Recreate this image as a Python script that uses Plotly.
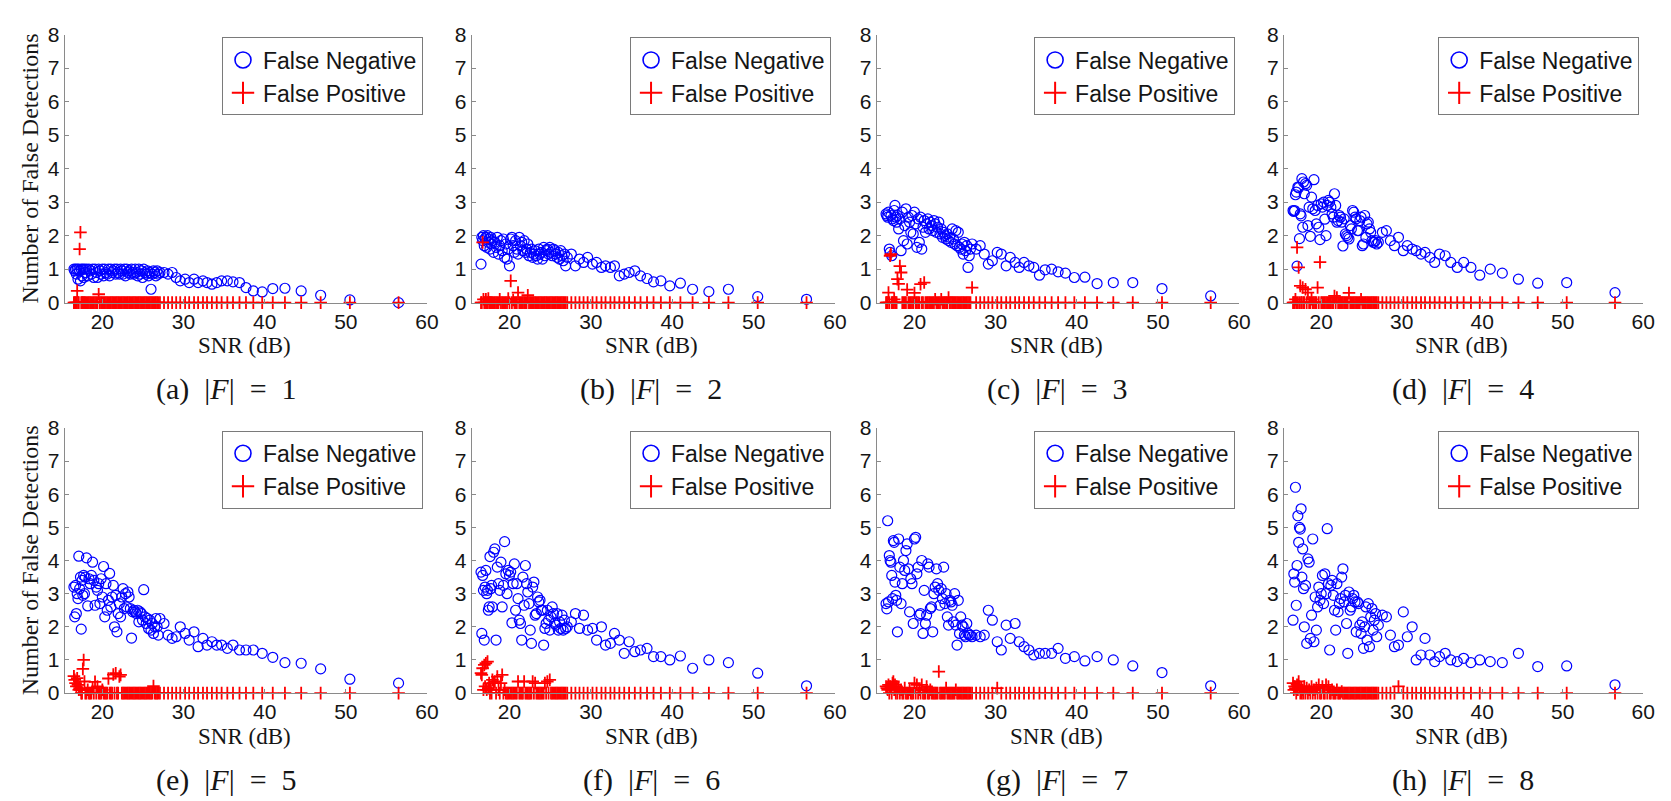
import plotly.graph_objects as go

# ---------------- data ----------------
SNR = [
    16.5, 16.6, 16.7, 16.8, 16.9, 17.0, 17.1, 17.2, 17.3, 17.4, 17.5, 17.6, 17.7, 17.8, 17.9,
    18.05, 18.2, 18.35, 18.5, 18.65, 18.8, 18.95, 19.1, 19.25, 19.4, 19.55, 19.7, 19.85, 20.0, 20.15, 20.3, 20.45, 20.6, 20.75, 20.9,
    21.05, 21.2, 21.35, 21.5, 21.65, 21.8, 21.95, 22.1, 22.25, 22.4, 22.55, 22.7, 22.85, 23.0, 23.15, 23.3, 23.45, 23.6, 23.75, 23.9,
    24.05, 24.2, 24.35, 24.5, 24.65, 24.8, 24.95, 25.1, 25.25, 25.4, 25.55, 25.7, 25.85, 26.0, 26.15, 26.3, 26.45, 26.6, 26.75, 26.9, 27.1,
    27.6, 28.1, 28.6, 29.1, 29.6, 30.2, 30.7, 31.3, 31.8, 32.4, 32.9, 33.5, 34.1, 34.7, 35.4, 36.1, 36.9, 37.7, 38.6, 39.7, 41.0, 42.5, 44.5, 46.9, 50.5, 56.5,
]

FN_A = [
    1.0, 0.95, 1.0, 0.85, 1.0,  0.7, 1.0, 0.95, 0.65, 1.0,  0.8, 1.0, 0.75, 1.0, 0.9,
    1.0, 0.8, 1.0, 0.95, 0.85,  1.0, 0.75, 1.0, 0.9, 0.75,  1.0, 0.95, 0.85, 1.0, 0.8,  1.0, 0.9, 0.85, 1.0, 0.8,
    1.0, 0.9, 0.95, 1.0, 0.85,  1.0, 0.9, 0.85, 1.0, 0.95,  0.85, 1.0, 0.8, 1.0, 0.9,  0.95, 0.85, 1.0, 0.9, 0.85,
    1.0, 0.9, 0.8, 1.0, 0.85,  0.95, 0.75, 1.0, 0.9, 0.85,  0.95, 0.8, 0.9, 0.4, 0.85,  0.95, 0.9, 0.8, 0.95, 0.85,  0.9,
    0.9, 0.85, 0.9, 0.75, 0.65,  0.7, 0.6, 0.7, 0.6, 0.65,  0.6, 0.55, 0.6, 0.65, 0.65,  0.62, 0.6, 0.45, 0.35, 0.32,  0.42, 0.43, 0.35, 0.22, 0.08,  0.0,
]
FP_A = [
    0, 0, 0, 0, 0.35,  0, 0, 1.6, 2.1, 0,  0, 0, 0, 0, 0,
    0, 0, 0, 0, 0,  0, 0, 0, 0, 0,  0.25, 0, 0, 0, 0,  0, 0, 0, 0, 0,
    0, 0, 0, 0, 0,  0, 0, 0, 0, 0,  0, 0, 0, 0, 0,  0, 0, 0, 0, 0,
    0, 0, 0, 0, 0,  0, 0, 0, 0, 0,  0, 0, 0, 0, 0,  0, 0, 0, 0, 0,  0,
    0, 0, 0, 0, 0,  0, 0, 0, 0, 0,  0, 0, 0, 0, 0,  0, 0, 0, 0, 0,  0, 0, 0, 0, 0,  0,
]

FN_B = [
    1.15, 1.95, 1.85, 2.0, 1.7,  1.9, 1.95, 1.65, 2.0, 1.8,  1.9, 1.6, 1.95, 1.75, 1.85,
    1.5, 1.8, 1.65, 1.95, 1.45,  1.7, 1.85, 1.55, 1.9, 1.35,  1.75, 1.3, 1.6, 1.1, 1.9,  1.95, 1.7, 1.5, 1.85, 1.6,
    1.45, 1.95, 1.7, 1.8, 1.55,  1.85, 1.5, 1.6, 1.75, 1.4,  1.5, 1.6, 1.35, 1.45, 1.55,  1.4, 1.3, 1.6, 1.45, 1.5,
    1.3, 1.65, 1.4, 1.55, 1.6,  1.45, 1.65, 1.5, 1.4, 1.6,  1.55, 1.45, 1.35, 1.5, 1.3,  1.55, 1.4, 1.25, 1.45, 1.1,  1.35,
    1.45, 1.1, 1.3, 1.2, 1.35,  1.15, 1.2, 1.05, 1.1, 1.05,  1.1, 0.8, 0.85, 0.9, 0.95,  0.8, 0.72, 0.62, 0.65, 0.5,  0.58, 0.4, 0.33, 0.4, 0.18,  0.1,
]
FP_B = [
    0, 0, 1.8, 0.1, 0,  0, 0.1, 0, 0, 0.12,  0, 0, 0, 0, 0,
    0, 0, 0, 0, 0,  0.1, 0, 0, 0, 0,  0, 0, 0.12, 0, 0.65,  0, 0.08, 0, 0, 0,
    0.3, 0, 0, 0, 0,  0, 0, 0, 0.22, 0,  0, 0, 0, 0, 0,  0, 0, 0, 0, 0,
    0, 0, 0, 0, 0,  0, 0, 0, 0, 0,  0, 0, 0, 0, 0,  0, 0, 0, 0, 0,  0,
    0, 0, 0, 0, 0,  0, 0, 0, 0, 0,  0, 0, 0, 0, 0,  0, 0, 0, 0, 0,  0, 0, 0, 0, 0,  0,
]

FN_C = [
    2.65, 2.6, 2.55, 2.7, 1.6,  1.5, 2.6, 1.4, 2.5, 2.45,  2.75, 2.9, 2.55, 2.4, 2.6,
    2.2, 2.5, 1.55, 2.7, 1.85,  2.3, 2.8, 1.75, 2.55, 2.4,  2.1, 2.6, 2.05, 2.7, 2.35,  1.65, 2.5, 1.8, 2.55, 1.6,
    2.25, 2.45, 2.1, 2.35, 2.5,  2.2, 2.4, 2.3, 2.15, 2.45,  2.35, 2.1, 2.25, 2.4, 2.05,  2.2, 1.95, 2.1, 2.0, 1.9,
    2.05, 1.85, 1.95, 1.8, 2.2,  1.9, 1.75, 2.15, 1.7, 2.1,  1.65, 1.6, 1.75, 1.45, 1.8,  1.55, 1.7, 1.05, 1.4, 1.6,  1.75,
    1.6, 1.7, 1.45, 1.15, 1.25,  1.5, 1.45, 1.1, 1.35, 1.2,  1.05, 1.2, 1.1, 1.05, 0.82,  0.98, 1.0, 0.92, 0.88, 0.75,  0.76, 0.57, 0.6, 0.6, 0.42,  0.2,
]
FP_C = [
    0, 0, 0, 0.3, 0,  1.4, 1.45, 0, 0, 0,  0.1, 0, 0, 0, 0.7,
    0.56, 1.09, 0.9, 0, 0,  0, 0, 0.39, 0, 0,  0, 0, 0, 0.29, 0,  0, 0, 0, 0.55, 0,
    0, 0.6, 0, 0, 0,  0, 0, 0, 0, 0,  0.1, 0, 0, 0, 0,  0.1, 0, 0, 0, 0,
    0, 0.15, 0, 0, 0,  0, 0, 0, 0, 0,  0, 0, 0, 0, 0,  0, 0, 0, 0, 0,  0.45,
    0, 0, 0, 0, 0,  0, 0, 0, 0, 0,  0, 0, 0, 0, 0,  0, 0, 0, 0, 0,  0, 0, 0, 0, 0,  0,
]

FN_D = [
    2.75, 2.72, 2.75, 3.22, 3.3,  1.09, 3.45, 3.43, 1.91, 2.65,  2.59, 3.7, 2.25, 3.6, 3.25,
    3.55, 3.5, 2.3, 2.85, 1.98,  3.15, 2.8, 3.67, 2.75, 2.35,  2.9, 2.25, 1.88, 2.95, 2.85,  3.0, 2.49, 2.0, 2.9, 3.05,
    3.0, 2.85, 2.65, 2.55, 3.25,  2.9, 2.4, 2.45, 2.6, 2.55,  2.4, 1.69, 2.5, 2.05, 2.0,  1.95, 1.9, 2.3, 2.2, 2.75,
    2.7, 2.55, 2.5, 2.15, 2.15,  2.45, 2.55, 1.7, 1.75, 2.6,  1.95, 2.35, 2.4, 2.2, 2.1,  1.85, 1.8, 1.8, 1.85, 1.75,  1.8,
    2.1, 2.15, 1.85, 1.7, 1.95,  1.55, 1.7, 1.6, 1.55, 1.45,  1.5, 1.35, 1.2, 1.45, 1.4,  1.2, 1.05, 1.2, 1.05, 0.82,  1.0, 0.88, 0.7, 0.58, 0.6,  0.3,
]
FP_D = [
    0, 0, 0, 0.1, 0,  1.65, 0, 1.05, 0, 0.5,  0, 0, 0.45, 0, 0,
    0.4, 0, 0.3, 0, 0,  0.1, 0, 0, 0, 0,  0.45, 0, 1.21, 0, 0,  0, 0, 0, 0, 0,
    0, 0, 0, 0, 0.2,  0, 0.15, 0, 0, 0,  0, 0, 0, 0, 0,  0, 0.29, 0, 0, 0,
    0, 0, 0, 0, 0,  0, 0.1, 0, 0, 0,  0, 0, 0, 0, 0,  0, 0, 0, 0, 0,  0,
    0, 0, 0, 0, 0,  0, 0, 0, 0, 0,  0, 0, 0, 0, 0,  0, 0, 0, 0, 0,  0, 0, 0, 0, 0,  0,
]

FN_E = [
    3.2, 2.3, 3.25, 2.4, 3.0,  2.85, 4.13, 3.15, 3.5, 1.93,  3.4, 2.95, 3.55, 3.0, 3.5,
    4.08, 2.63, 3.45, 3.3, 3.55,  3.95, 3.4, 2.65, 3.2, 3.1,  3.3, 2.7, 3.45, 2.9, 3.82,  2.3, 3.3, 2.5, 2.8, 3.61,
    2.6, 2.9, 3.25, 2.0, 2.95,  1.85, 2.4, 2.7, 2.3, 2.9,  3.15, 2.55, 3.0, 2.6, 3.05,  2.9, 2.55, 1.66, 2.45, 2.5,
    2.45, 2.4, 2.5, 2.15, 2.45,  2.4, 2.2, 3.12, 2.3, 2.1,  2.25, 1.95, 2.2, 1.9, 2.1,  1.8, 2.0, 2.25, 2.0, 1.75,  2.25,
    2.1, 1.75, 1.65, 1.7, 2.0,  1.8, 1.6, 1.85, 1.4, 1.65,  1.45, 1.55, 1.45, 1.45, 1.35,  1.45, 1.3, 1.3, 1.3, 1.2,  1.08, 0.92, 0.9, 0.73, 0.42,  0.3,
]
FP_E = [
    0.51, 0.4, 0.3, 0.2, 0.45,  0.25, 0.1, 0.15, 0.1, 0,  0, 0.73, 1.0, 0.35, 0,
    0, 0.1, 0, 0, 0,  0.15, 0, 0.34, 0, 0.2,  0, 0, 0, 0.1, 0,  0, 0, 0, 0.44, 0,
    0, 0, 0.56, 0, 0.6,  0, 0, 0.5, 0.55, 0,  0, 0, 0, 0, 0,  0, 0, 0, 0, 0,
    0, 0, 0, 0, 0,  0, 0, 0, 0, 0,  0, 0, 0, 0, 0,  0.21, 0, 0, 0, 0,  0,
    0, 0, 0, 0, 0,  0, 0, 0, 0, 0,  0, 0, 0, 0, 0,  0, 0, 0, 0, 0,  0, 0, 0, 0, 0,  0,
]

FN_F = [
    3.65, 1.8, 3.55, 3.1, 1.6,  3.2, 3.7, 3.0, 3.1, 2.5,  2.6, 4.12, 3.15, 3.25, 2.6,
    4.25, 4.35, 1.6, 3.8, 3.3,  3.1, 3.95, 2.6, 3.25, 4.57,  3.6, 3.0, 3.7, 3.55, 3.65,  2.12, 3.3, 3.9, 2.5, 3.3,
    2.85, 2.2, 2.1, 1.6, 3.5,  2.65, 3.85, 3.3, 3.05, 2.7,  1.9, 1.5, 3.2, 3.35, 2.35,  2.4, 2.9, 2.75, 2.8, 2.5,
    2.5, 1.45, 1.95, 2.1, 2.5,  2.2, 1.9, 2.3, 2.6, 2.4,  2.1, 2.05, 2.4, 1.9, 2.15,  1.95, 2.35, 1.9, 2.2, 1.95,  2.0,
    2.15, 2.4, 1.95, 2.35, 1.9,  1.95, 1.6, 2.0, 1.45, 1.5,  1.8, 1.6, 1.2, 1.55, 1.25,  1.3, 1.35, 1.1, 1.1, 1.0,  1.12, 0.75, 1.0, 0.92, 0.6,  0.22,
]
FP_F = [
    0.6, 0.55, 0.75, 0.1, 0.85,  0.2, 0.9, 0.1, 0.95, 0.15,  0.3, 0, 0.1, 0, 0.4,
    0.3, 0.35, 0, 0.5, 0.1,  0, 0.3, 0.55, 0, 0.1,  0, 0, 0, 0, 0,  0, 0, 0, 0, 0,
    0.35, 0, 0, 0, 0,  0.35, 0, 0, 0, 0,  0, 0, 0.35, 0, 0.3,  0, 0, 0, 0, 0,
    0, 0, 0.3, 0, 0.35,  0, 0.4, 0, 0, 0,  0, 0, 0, 0, 0,  0, 0, 0, 0, 0,  0,
    0, 0, 0, 0, 0,  0, 0, 0, 0, 0,  0, 0, 0, 0, 0,  0, 0, 0, 0, 0,  0, 0, 0, 0, 0,  0,
]

FN_G = [
    2.7, 2.54, 5.2, 2.75, 4.15,  4.0, 3.95, 3.55, 2.85, 4.6,  4.55, 3.35, 2.95, 2.8, 1.85,
    4.65, 3.8, 2.7, 3.3, 4.0,  3.7, 4.3, 4.5, 3.75, 2.45,  3.45, 3.3, 2.1, 4.65, 4.7,  3.6, 3.8, 2.35, 2.4, 4.0,
    1.8, 3.1, 2.1, 2.35, 3.9,  3.8, 2.55, 2.6, 1.85, 3.0,  3.2, 3.75, 3.3, 3.1, 2.65,  3.15, 2.85, 3.8, 2.7, 3.0,
    2.3, 2.05, 2.8, 2.75, 2.65,  2.15, 3.0, 2.05, 1.45, 2.8,  1.8, 2.3, 2.05, 2.0, 1.75,  1.7, 2.1, 1.8, 1.75, 1.75,  1.7,
    1.75, 1.7, 1.75, 2.5, 2.2,  1.55, 1.3, 2.05, 1.65, 2.1,  1.55, 1.4, 1.3, 1.15, 1.2,  1.2, 1.2, 1.35, 1.05, 1.1,  0.97, 1.1, 1.0, 0.82, 0.62,  0.22,
]
FP_G = [
    0.2, 0.15, 0.1, 0.25, 0,  0.2, 0.15, 0, 0.3, 0.35,  0.1, 0.25, 0, 0.2, 0,
    0.15, 0, 0.1, 0, 0,  0.15, 0, 0, 0, 0.1,  0, 0, 0, 0.3, 0,  0.25, 0, 0.1, 0, 0.25,
    0, 0, 0, 0.2, 0,  0, 0.1, 0, 0, 0,  0, 0, 0, 0.65, 0,  0, 0, 0, 0, 0.15,
    0, 0, 0, 0, 0,  0, 0, 0.1, 0, 0,  0, 0, 0, 0, 0,  0, 0, 0, 0, 0,  0,
    0, 0, 0, 0, 0,  0.15, 0, 0, 0, 0,  0, 0, 0, 0, 0,  0, 0, 0, 0, 0,  0, 0, 0, 0, 0,  0,
]

FN_H = [
    2.2, 3.6, 3.35, 6.21, 2.65,  3.85, 5.35, 4.55, 5.0, 4.95,  5.56, 3.5, 4.35, 3.15, 2.0,
    3.25, 1.5, 4.05, 3.95, 1.65,  2.35, 4.65, 1.55, 2.9, 1.9,  2.6, 3.2, 2.8, 3.0, 3.55,  2.7, 3.6, 3.0, 4.96, 3.3,
    1.3, 3.25, 3.4, 2.95, 2.5,  1.9, 3.3, 2.45, 2.7, 2.85,  3.5, 3.75, 2.75, 2.95, 2.1,  1.2, 3.05, 2.5, 2.6, 2.85,
    2.95, 2.75, 1.85, 2.75, 2.7,  2.05, 1.8, 2.15, 1.35, 2.0,  2.6, 1.6, 2.7, 1.4, 2.3,  2.55, 1.9, 2.2, 2.4, 1.7,  2.05,
    2.35, 2.3, 1.75, 1.4, 1.45,  2.45, 1.7, 2.0, 1.0, 1.15,  1.65, 1.15, 0.95, 1.1, 1.2,  1.0, 0.95, 1.05, 0.92, 1.0,  0.95, 0.92, 1.2, 0.8, 0.82,  0.25,
]
FP_H = [
    0.3, 0.1, 0.2, 0.15, 0,  0.25, 0.1, 0.35, 0.2, 0,  0.15, 0, 0.1, 0, 0.2,
    0, 0.15, 0, 0.1, 0,  0.2, 0, 0.1, 0, 0.15,  0, 0.25, 0, 0, 0.2,  0, 0, 0.25, 0, 0.2,
    0, 0, 0.1, 0, 0,  0, 0.1, 0, 0, 0,  0.05, 0, 0, 0, 0,  0, 0, 0, 0, 0,
    0, 0, 0, 0, 0,  0, 0, 0, 0, 0,  0, 0, 0, 0, 0,  0, 0, 0, 0, 0,  0,
    0, 0, 0, 0, 0.2,  0, 0, 0, 0, 0,  0, 0, 0, 0, 0,  0, 0, 0, 0, 0,  0, 0, 0, 0, 0,  0,
]

PANEL_LETTERS = ["a", "b", "c", "d", "e", "f", "g", "h"]
PANEL_F = [1, 2, 3, 4, 5, 6, 7, 8]
X_TICKS = [20, 30, 40, 50, 60]
Y_TICKS = [0, 1, 2, 3, 4, 5, 6, 7, 8]
SERIES_NAMES = ["False Negative", "False Positive"]
X_LABEL = "SNR (dB)"
Y_LABEL = "Number of False Detections"

FN_ALL = [FN_A, FN_B, FN_C, FN_D, FN_E, FN_F, FN_G, FN_H]
FP_ALL = [FP_A, FP_B, FP_C, FP_D, FP_E, FP_F, FP_G, FP_H]
for k, (fn, fp) in enumerate(zip(FN_ALL, FP_ALL)):
    if len(fn) != len(SNR) or len(fp) != len(SNR):
        raise ValueError(f"panel {PANEL_LETTERS[k]}: FN {len(fn)} FP {len(fp)} SNR {len(SNR)}")

# ---------------- layout geometry / style ----------------
W, H = 1671, 801
COL_PX = [(57, 422), (467, 833), (875, 1240), (1285, 1647)]
ROW_PX = [(15, 291), (420, 693)]
CAP_X_PX = [220, 648, 1057, 1466]
CAP_Y_PX = [380, 782]
XLAB_Y_PX = [335, 738]
YLAB_X_PX = 22

BLUE = "#0000ff"
RED = "#ff0000"
AXC = "#8a8a8a"
TXT = "#151515"
SANS = "Liberation Sans, Arial, sans-serif"
SERIF = "Liberation Serif, Times New Roman, serif"

fig = go.Figure()
layout = dict(
    width=W, height=H, autosize=False,
    margin=dict(l=0, r=0, t=0, b=0),
    paper_bgcolor="white", plot_bgcolor="white",
    showlegend=True, annotations=[],
)

for i in range(8):
    r, c = divmod(i, 4)
    k = i + 1
    xname = "x" if k == 1 else f"x{k}"
    yname = "y" if k == 1 else f"y{k}"
    lname = "legend" if k == 1 else f"legend{k}"
    x0, x1 = COL_PX[c]
    y0, y1 = ROW_PX[r]

    fig.add_trace(go.Scatter(
        x=SNR, y=FN_ALL[i], mode="markers", xaxis=xname, yaxis=yname,
        showlegend=False, cliponaxis=False, hoverinfo="skip",
        marker=dict(symbol="circle-open", size=10, color=BLUE, line=dict(color=BLUE, width=1.2)),
    ))
    fig.add_trace(go.Scatter(
        x=SNR, y=FP_ALL[i], mode="markers", xaxis=xname, yaxis=yname,
        showlegend=False, cliponaxis=False, hoverinfo="skip",
        marker=dict(symbol="cross-thin-open", size=9, color=RED, line=dict(color=RED, width=1.8)),
    ))
    fig.add_trace(go.Scatter(
        x=[None], y=[None], mode="markers", name=SERIES_NAMES[0], legend=lname,
        xaxis=xname, yaxis=yname, hoverinfo="skip",
        marker=dict(symbol="circle-open", size=16, color=BLUE, line=dict(color=BLUE, width=1.6)),
    ))
    fig.add_trace(go.Scatter(
        x=[None], y=[None], mode="markers", name=SERIES_NAMES[1], legend=lname,
        xaxis=xname, yaxis=yname, hoverinfo="skip",
        marker=dict(symbol="cross-thin-open", size=16, color=RED, line=dict(color=RED, width=2)),
    ))

    layout["xaxis" if k == 1 else f"xaxis{k}"] = dict(
        domain=[x0 / W, x1 / W], anchor=yname, range=[15.35, 60],
        tickmode="array", tickvals=X_TICKS, ticks="inside", ticklen=4, tickcolor=AXC,
        showline=True, linecolor=AXC, linewidth=1, showgrid=False, zeroline=False,
        tickfont=dict(family=SANS, size=21, color=TXT),
        fixedrange=True,
    )
    layout["yaxis" if k == 1 else f"yaxis{k}"] = dict(
        domain=[1 - y1 / H, 1 - y0 / H], anchor=xname, range=[0, 8],
        tickmode="array", tickvals=Y_TICKS, ticks="inside", ticklen=4, tickcolor=AXC,
        showline=True, linecolor=AXC, linewidth=1, showgrid=False, zeroline=False,
        tickfont=dict(family=SANS, size=21, color=TXT),
        fixedrange=True,
    )
    layout[lname] = dict(
        x=(x1 - 4) / W, xanchor="right", y=1 - (y0 + 3) / H, yanchor="top",
        bgcolor="white", bordercolor="#7a7a7a", borderwidth=1,
        font=dict(family=SANS, size=23, color=TXT),
        tracegroupgap=0, itemwidth=30, itemsizing="trace", traceorder="normal",
    )
    # x-axis title
    layout["annotations"].append(dict(
        xref="paper", yref="paper", x=((x0 + x1) / 2 - 1.5) / W, y=1 - XLAB_Y_PX[r] / H,
        xanchor="center", yanchor="middle", showarrow=False,
        text=X_LABEL, font=dict(family=SERIF, size=23, color=TXT),
    ))
    # y-axis title on the first column
    if c == 0:
        layout["annotations"].append(dict(
            xref="paper", yref="paper", x=YLAB_X_PX / W, y=1 - ((y0 + y1) / 2) / H,
            xanchor="center", yanchor="middle", showarrow=False, textangle=-90,
            text=Y_LABEL, font=dict(family=SERIF, size=24, color=TXT),
        ))
    # sub-figure caption
    layout["annotations"].append(dict(
        xref="paper", yref="paper", x=CAP_X_PX[c] / W, y=1 - CAP_Y_PX[r] / H,
        xanchor="center", yanchor="middle", showarrow=False,
        text=f"({PANEL_LETTERS[i]})&nbsp;&nbsp;|<i>F</i>|&nbsp;&nbsp;=&nbsp;&nbsp;{PANEL_F[i]}",
        font=dict(family=SERIF, size=30, color=TXT),
    ))

fig.update_layout(**layout)
fig.write_html("out.html", config={"displayModeBar": False})
